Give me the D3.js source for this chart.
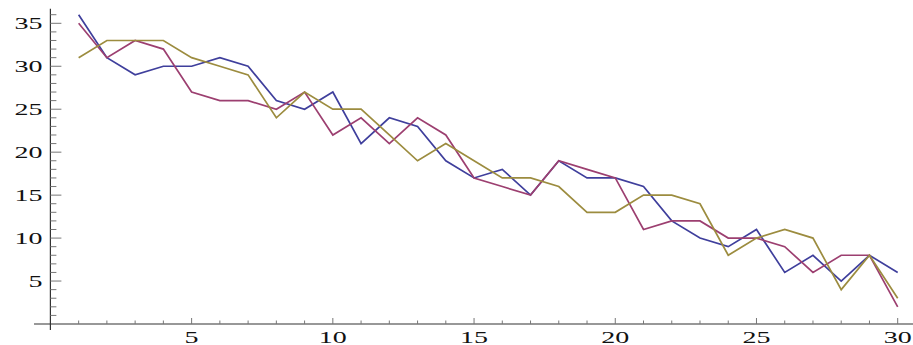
<!DOCTYPE html>
<html>
<head>
<meta charset="utf-8">
<script src="https://cdn.jsdelivr.net/npm/d3@7"></script>
<style>
  html, body { margin: 0; padding: 0; background: #fff; }
  svg { display: block; }
</style>
</head>
<body>
<svg id="chart" width="913" height="345"></svg>
<script>
// ---- data ----
const xValues = d3.range(1, 31);
const seriesA = [36,31,29,30,30,31,30,26,25,27,21,24,23,19,17,18,15,19,17,17,16,12,10,9,11,6,8,5,8,6];
const seriesB = [35,31,33,32,27,26,26,25,27,22,24,21,24,22,17,16,15,19,18,17,11,12,12,10,10,9,6,8,8,2];
const seriesC = [31,33,33,33,31,30,29,24,27,25,25,22,19,21,19,17,17,16,13,13,15,15,14,8,10,11,10,4,8,3];
const xTickLabels = [5, 10, 15, 20, 25, 30];
const yTickLabels = [5, 10, 15, 20, 25, 30, 35];
const xMinorTicks = d3.range(1, 31);
const yMinorTicks = d3.range(1, 37);
const colors = ["#3f3f9c", "#9c3f70", "#9c8c3f"];

// ---- layout ----
const svg = d3.select("#chart");
const x = d3.scaleLinear().domain([0, 30]).range([50.4, 897.7]);
const y = d3.scaleLinear().domain([0, 35]).range([324, 23.3]);

const axisColor = "#333";
const tickColor = "#777";

// axes lines
svg.append("line")
  .attr("x1", x(-0.58)).attr("x2", 913)
  .attr("y1", y(0)).attr("y2", y(0))
  .attr("stroke", axisColor).attr("stroke-width", 1.2);
svg.append("line")
  .attr("x1", x(0)).attr("x2", x(0))
  .attr("y1", y(36.7)).attr("y2", y(-0.7))
  .attr("stroke", axisColor).attr("stroke-width", 1.2);

// x ticks
svg.append("g").selectAll("line").data(xMinorTicks).join("line")
  .attr("x1", d => x(d)).attr("x2", d => x(d))
  .attr("y1", y(0)).attr("y2", d => y(0) - (d % 5 === 0 ? 6 : 3.5))
  .attr("stroke", tickColor).attr("stroke-width", 1);
// y ticks
svg.append("g").selectAll("line").data(yMinorTicks).join("line")
  .attr("x1", x(0)).attr("x2", d => x(0) + (d % 5 === 0 ? 11 : 6))
  .attr("y1", d => y(d)).attr("y2", d => y(d))
  .attr("stroke", tickColor).attr("stroke-width", 1);

// tick labels (stretched serif like the reference)
const labelFont = "'Liberation Serif', 'DejaVu Serif', serif";
svg.append("g").selectAll("text").data(xTickLabels).join("text")
  .attr("transform", d => `translate(${x(d)},343) scale(1.75,1)`)
  .attr("text-anchor", "middle")
  .attr("font-family", labelFont).attr("font-size", 16)
  .attr("fill", "#111")
  .text(d => d);
svg.append("g").selectAll("text").data(yTickLabels).join("text")
  .attr("transform", d => `translate(42.5,${y(d) + 5.5}) scale(1.75,1)`)
  .attr("text-anchor", "end")
  .attr("font-family", labelFont).attr("font-size", 16)
  .attr("fill", "#111")
  .text(d => d);

// lines
const line = d3.line().x((d, i) => x(xValues[i])).y(d => y(d));
[seriesA, seriesB, seriesC].forEach((s, k) => {
  svg.append("path")
    .datum(s)
    .attr("d", line)
    .attr("fill", "none")
    .attr("stroke", colors[k])
    .attr("stroke-width", 1.7)
    .attr("stroke-linejoin", "miter");
});
</script>
</body>
</html>
